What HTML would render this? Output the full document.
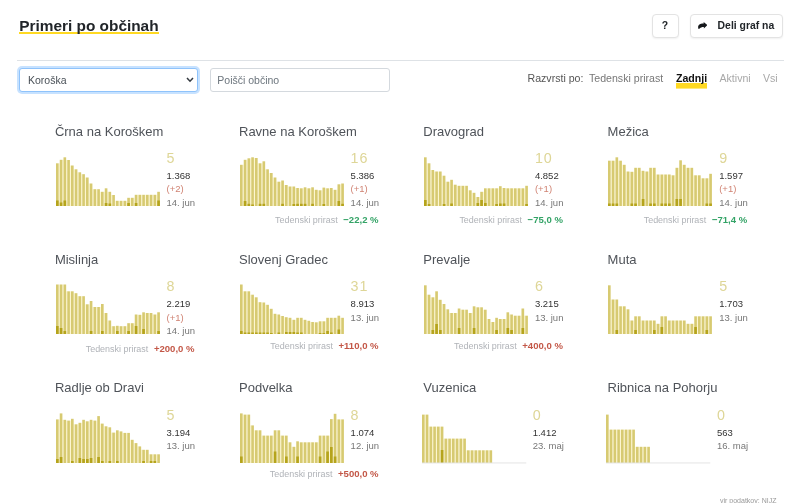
<!DOCTYPE html>
<html lang="sl">
<head>
<meta charset="utf-8">
<title>Primeri po občinah</title>
<style>
html,body{margin:0;padding:0;background:#fff;}
body{width:800px;height:503px;position:relative;overflow:hidden;font-family:"Liberation Sans",sans-serif;color:#212529;}
.abs{position:absolute;white-space:nowrap;}
h2.title{position:absolute;left:19.2px;top:15.8px;margin:0;font-size:15.4px;font-weight:bold;line-height:20px;color:#212529;white-space:nowrap;background:linear-gradient(#ffd922,#ffd922) left 16.6px/100% 2px no-repeat;}
.hr{position:absolute;left:17px;top:60px;width:766.6px;height:1px;background:#dee2e6;}
.btn{position:absolute;top:13.5px;height:22.5px;border:1px solid #e3e3e3;border-radius:4px;background:#fff;box-shadow:0 1px 2px rgba(0,0,0,.06);font-weight:bold;font-size:10.4px;line-height:21.5px;color:#212529;white-space:nowrap;}
.select{position:absolute;left:19px;top:68px;width:177px;height:22px;border:1px solid #8fc3fb;border-radius:3px;box-shadow:0 0 0 2px rgba(0,123,255,.22);background:#fff;font-size:10.5px;line-height:22px;color:#495057;}
.input{position:absolute;left:210px;top:68px;width:178px;height:22px;border:1px solid #d4d9de;border-radius:3px;background:#fff;font-size:10.5px;line-height:22px;color:#6c757d;}
.sort{position:absolute;top:70.1px;font-size:10.6px;line-height:16px;white-space:nowrap;}
.card{position:absolute;width:180px;height:120px;}
.name{position:absolute;left:0;top:0;font-size:13px;line-height:16px;color:#4f5359;white-space:nowrap;}
.chart{position:absolute;left:1.1px;top:29.5px;overflow:visible;}
.chart .l{fill:#d7ca71;}
.chart .u{fill:#fdf6cf;}
.chart .d{fill:#b5a41c;}
.chart .base{fill:#e2e2e2;}
.last{position:absolute;left:111.6px;font-size:14.3px;line-height:16px;color:#ded697;white-space:nowrap;letter-spacing:1px;}
.sm{position:absolute;left:111.6px;font-size:9.5px;line-height:12px;white-space:nowrap;}
.total{color:#333;}
.inc{color:#d08272;}
.date{color:#777;}
.growth{position:absolute;right:40.4px;font-size:8.95px;line-height:12px;white-space:nowrap;color:#b0b3b8;}
.growth b{font-size:9.55px;margin-left:5.6px;}
.growth b.g{color:#33a366;}
.growth b.r{color:#c35747;}
</style>
</head>
<body>
<h2 class="title">Primeri po občinah</h2>
<div class="btn" style="left:651.5px;width:25px;text-align:center;line-height:22.6px">?</div>
<div class="btn" style="left:690px;width:91px"><svg style="position:absolute;left:6.8px;top:7.3px" width="9.3" height="7.5" viewBox="0 0 100 100" preserveAspectRatio="none"><path fill="#15181b" d="M61 0L100 41L63 88L63 65C42 65 20 72 9 100C0 82-3 56 9 40C21 25 42 21 61 21Z"/></svg><span style="position:absolute;left:26.6px;top:0">Deli graf na</span></div>
<div class="hr"></div>
<div class="select"><span style="position:absolute;left:8px;top:0">Koroška</span><svg style="position:absolute;right:3.2px;top:8px" width="8" height="6" viewBox="0 0 8 6"><path d="M1 1l3 3.200L7 1" fill="none" stroke="#343a40" stroke-width="1.500"/></svg></div>
<div class="input"><span style="position:absolute;left:6.3px;top:0">Poišči občino</span></div>
<div class="sort" style="left:527.5px;color:#555">Razvrsti po:</div>
<div class="sort" style="left:589px;color:#777">Tedenski prirast</div>
<div class="sort" style="left:676px;color:#111;font-weight:bold;background:linear-gradient(#ffd922,#ffd922) left 12.9px/100% 5.6px no-repeat;height:18.5px">Zadnji</div>
<div class="sort" style="left:719.5px;color:#a8a8a8">Aktivni</div>
<div class="sort" style="left:763px;color:#a8a8a8">Vsi</div>
<div class="card" style="left:54.9px;top:124px">
<div class="name" style="top:0px">Črna na Koroškem</div>
<svg class="chart" style="left:1.1px;top:29.5px" width="106" height="53" viewBox="0 0 106 53">
<rect class="u" x="2.60" y="9.3" width="1.20" height="42.7"/>
<rect class="l" x="0.00" y="9.3" width="2.65" height="42.7"/>
<rect class="u" x="6.35" y="5.8" width="1.20" height="46.2"/>
<rect class="l" x="3.75" y="5.8" width="2.65" height="46.2"/>
<rect class="u" x="10.10" y="6.0" width="1.20" height="46.0"/>
<rect class="l" x="7.50" y="3.3" width="2.65" height="48.7"/>
<rect class="u" x="13.85" y="11.5" width="1.20" height="40.5"/>
<rect class="l" x="11.25" y="6.0" width="2.65" height="46.0"/>
<rect class="u" x="17.60" y="15.3" width="1.20" height="36.7"/>
<rect class="l" x="15.00" y="11.5" width="2.65" height="40.5"/>
<rect class="u" x="21.35" y="18.3" width="1.20" height="33.7"/>
<rect class="l" x="18.75" y="15.3" width="2.65" height="36.7"/>
<rect class="u" x="25.10" y="20.2" width="1.20" height="31.8"/>
<rect class="l" x="22.50" y="18.3" width="2.65" height="33.7"/>
<rect class="u" x="28.85" y="23.5" width="1.20" height="28.5"/>
<rect class="l" x="26.25" y="20.2" width="2.65" height="31.8"/>
<rect class="u" x="32.60" y="29.5" width="1.20" height="22.5"/>
<rect class="l" x="30.00" y="23.5" width="2.65" height="28.5"/>
<rect class="u" x="36.35" y="35.2" width="1.20" height="16.8"/>
<rect class="l" x="33.75" y="29.5" width="2.65" height="22.5"/>
<rect class="u" x="40.10" y="35.2" width="1.20" height="16.8"/>
<rect class="l" x="37.50" y="35.2" width="2.65" height="16.8"/>
<rect class="u" x="43.85" y="37.8" width="1.20" height="14.2"/>
<rect class="l" x="41.25" y="35.2" width="2.65" height="16.8"/>
<rect class="u" x="47.60" y="37.8" width="1.20" height="14.2"/>
<rect class="l" x="45.00" y="37.8" width="2.65" height="14.2"/>
<rect class="u" x="51.35" y="37.8" width="1.20" height="14.2"/>
<rect class="l" x="48.75" y="34.3" width="2.65" height="17.7"/>
<rect class="u" x="55.10" y="41.0" width="1.20" height="11.0"/>
<rect class="l" x="52.50" y="37.8" width="2.65" height="14.2"/>
<rect class="u" x="58.85" y="46.8" width="1.20" height="5.2"/>
<rect class="l" x="56.25" y="41.0" width="2.65" height="11.0"/>
<rect class="u" x="62.60" y="46.8" width="1.20" height="5.2"/>
<rect class="l" x="60.00" y="46.8" width="2.65" height="5.2"/>
<rect class="u" x="66.35" y="46.8" width="1.20" height="5.2"/>
<rect class="l" x="63.75" y="46.8" width="2.65" height="5.2"/>
<rect class="u" x="70.10" y="46.8" width="1.20" height="5.2"/>
<rect class="l" x="67.50" y="46.8" width="2.65" height="5.2"/>
<rect class="u" x="73.85" y="43.8" width="1.20" height="8.2"/>
<rect class="l" x="71.25" y="43.8" width="2.65" height="8.2"/>
<rect class="u" x="77.60" y="43.8" width="1.20" height="8.2"/>
<rect class="l" x="75.00" y="43.8" width="2.65" height="8.2"/>
<rect class="u" x="81.35" y="40.8" width="1.20" height="11.2"/>
<rect class="l" x="78.75" y="40.8" width="2.65" height="11.2"/>
<rect class="u" x="85.10" y="40.8" width="1.20" height="11.2"/>
<rect class="l" x="82.50" y="40.8" width="2.65" height="11.2"/>
<rect class="u" x="88.85" y="40.8" width="1.20" height="11.2"/>
<rect class="l" x="86.25" y="40.8" width="2.65" height="11.2"/>
<rect class="u" x="92.60" y="40.8" width="1.20" height="11.2"/>
<rect class="l" x="90.00" y="40.8" width="2.65" height="11.2"/>
<rect class="u" x="96.35" y="40.8" width="1.20" height="11.2"/>
<rect class="l" x="93.75" y="40.8" width="2.65" height="11.2"/>
<rect class="u" x="100.10" y="40.8" width="1.20" height="11.2"/>
<rect class="l" x="97.50" y="40.8" width="2.65" height="11.2"/>
<rect class="l" x="101.25" y="37.8" width="2.65" height="14.2"/>
<rect class="d" x="0.00" y="46.5" width="2.65" height="5.5"/>
<rect class="d" x="3.75" y="48.5" width="2.65" height="3.5"/>
<rect class="d" x="7.50" y="46.5" width="2.65" height="5.5"/>
<rect class="d" x="48.75" y="49.0" width="2.65" height="3.0"/>
<rect class="d" x="52.50" y="49.5" width="2.65" height="2.5"/>
<rect class="d" x="71.25" y="49.0" width="2.65" height="3.0"/>
<rect class="d" x="78.75" y="49.0" width="2.65" height="3.0"/>
<rect class="d" x="101.25" y="46.5" width="2.65" height="5.5"/>
</svg>
<div class="last" style="left:111.6px;top:26.2px">5</div>
<div class="sm total" style="left:111.6px;top:46px">1.368</div>
<div class="sm inc" style="left:111.6px;top:59.3px">(+2)</div>
<div class="sm date" style="left:111.6px;top:72.6px">14. jun</div>
</div>
<div class="card" style="left:239.0px;top:124px">
<div class="name" style="top:0px">Ravne na Koroškem</div>
<svg class="chart" style="left:1.1px;top:29.5px" width="106" height="53" viewBox="0 0 106 53">
<rect class="u" x="2.60" y="10.8" width="1.20" height="41.2"/>
<rect class="l" x="0.00" y="10.8" width="2.65" height="41.2"/>
<rect class="u" x="6.35" y="5.8" width="1.20" height="46.2"/>
<rect class="l" x="3.75" y="5.8" width="2.65" height="46.2"/>
<rect class="u" x="10.10" y="4.3" width="1.20" height="47.7"/>
<rect class="l" x="7.50" y="4.3" width="2.65" height="47.7"/>
<rect class="u" x="13.85" y="4.0" width="1.20" height="48.0"/>
<rect class="l" x="11.25" y="3.3" width="2.65" height="48.7"/>
<rect class="u" x="17.60" y="9.3" width="1.20" height="42.7"/>
<rect class="l" x="15.00" y="4.0" width="2.65" height="48.0"/>
<rect class="u" x="21.35" y="9.3" width="1.20" height="42.7"/>
<rect class="l" x="18.75" y="9.3" width="2.65" height="42.7"/>
<rect class="u" x="25.10" y="15.3" width="1.20" height="36.7"/>
<rect class="l" x="22.50" y="7.3" width="2.65" height="44.7"/>
<rect class="u" x="28.85" y="19.0" width="1.20" height="33.0"/>
<rect class="l" x="26.25" y="15.3" width="2.65" height="36.7"/>
<rect class="u" x="32.60" y="23.5" width="1.20" height="28.5"/>
<rect class="l" x="30.00" y="19.0" width="2.65" height="33.0"/>
<rect class="u" x="36.35" y="27.7" width="1.20" height="24.3"/>
<rect class="l" x="33.75" y="23.5" width="2.65" height="28.5"/>
<rect class="u" x="40.10" y="27.7" width="1.20" height="24.3"/>
<rect class="l" x="37.50" y="27.7" width="2.65" height="24.3"/>
<rect class="u" x="43.85" y="31.0" width="1.20" height="21.0"/>
<rect class="l" x="41.25" y="26.5" width="2.65" height="25.5"/>
<rect class="u" x="47.60" y="32.5" width="1.20" height="19.5"/>
<rect class="l" x="45.00" y="31.0" width="2.65" height="21.0"/>
<rect class="u" x="51.35" y="32.5" width="1.20" height="19.5"/>
<rect class="l" x="48.75" y="32.5" width="2.65" height="19.5"/>
<rect class="u" x="55.10" y="34.0" width="1.20" height="18.0"/>
<rect class="l" x="52.50" y="32.5" width="2.65" height="19.5"/>
<rect class="u" x="58.85" y="34.3" width="1.20" height="17.7"/>
<rect class="l" x="56.25" y="34.0" width="2.65" height="18.0"/>
<rect class="u" x="62.60" y="34.3" width="1.20" height="17.7"/>
<rect class="l" x="60.00" y="34.3" width="2.65" height="17.7"/>
<rect class="u" x="66.35" y="34.3" width="1.20" height="17.7"/>
<rect class="l" x="63.75" y="33.3" width="2.65" height="18.7"/>
<rect class="u" x="70.10" y="34.3" width="1.20" height="17.7"/>
<rect class="l" x="67.50" y="34.3" width="2.65" height="17.7"/>
<rect class="u" x="73.85" y="35.8" width="1.20" height="16.2"/>
<rect class="l" x="71.25" y="33.3" width="2.65" height="18.7"/>
<rect class="u" x="77.60" y="36.3" width="1.20" height="15.7"/>
<rect class="l" x="75.00" y="35.8" width="2.65" height="16.2"/>
<rect class="u" x="81.35" y="36.3" width="1.20" height="15.7"/>
<rect class="l" x="78.75" y="36.3" width="2.65" height="15.7"/>
<rect class="u" x="85.10" y="34.3" width="1.20" height="17.7"/>
<rect class="l" x="82.50" y="33.6" width="2.65" height="18.4"/>
<rect class="u" x="88.85" y="34.3" width="1.20" height="17.7"/>
<rect class="l" x="86.25" y="34.3" width="2.65" height="17.7"/>
<rect class="u" x="92.60" y="35.8" width="1.20" height="16.2"/>
<rect class="l" x="90.00" y="34.0" width="2.65" height="18.0"/>
<rect class="u" x="96.35" y="35.8" width="1.20" height="16.2"/>
<rect class="l" x="93.75" y="35.8" width="2.65" height="16.2"/>
<rect class="u" x="100.10" y="30.3" width="1.20" height="21.7"/>
<rect class="l" x="97.50" y="30.3" width="2.65" height="21.7"/>
<rect class="l" x="101.25" y="29.5" width="2.65" height="22.5"/>
<rect class="d" x="3.75" y="47.0" width="2.65" height="5.0"/>
<rect class="d" x="7.50" y="49.8" width="2.65" height="2.2"/>
<rect class="d" x="11.25" y="50.5" width="2.65" height="1.5"/>
<rect class="d" x="18.75" y="49.8" width="2.65" height="2.2"/>
<rect class="d" x="22.50" y="49.8" width="2.65" height="2.2"/>
<rect class="d" x="41.25" y="49.8" width="2.65" height="2.2"/>
<rect class="d" x="52.50" y="50.0" width="2.65" height="2.0"/>
<rect class="d" x="56.25" y="49.8" width="2.65" height="2.2"/>
<rect class="d" x="60.00" y="49.8" width="2.65" height="2.2"/>
<rect class="d" x="63.75" y="49.8" width="2.65" height="2.2"/>
<rect class="d" x="71.25" y="49.8" width="2.65" height="2.2"/>
<rect class="d" x="82.50" y="50.0" width="2.65" height="2.0"/>
<rect class="d" x="97.50" y="47.0" width="2.65" height="5.0"/>
<rect class="d" x="101.25" y="49.8" width="2.65" height="2.2"/>
</svg>
<div class="last" style="left:111.6px;top:26.2px">16</div>
<div class="sm total" style="left:111.6px;top:46px">5.386</div>
<div class="sm inc" style="left:111.6px;top:59.3px">(+1)</div>
<div class="sm date" style="left:111.6px;top:72.6px">14. jun</div>
<div class="growth" style="top:90.3px">Tedenski prirast<b class="g">−22,2 %</b></div>
</div>
<div class="card" style="left:423.3px;top:124px">
<div class="name" style="top:0px">Dravograd</div>
<svg class="chart" style="left:1.1px;top:29.5px" width="106" height="53" viewBox="0 0 106 53">
<rect class="u" x="2.60" y="9.3" width="1.20" height="42.7"/>
<rect class="l" x="0.00" y="3.3" width="2.65" height="48.7"/>
<rect class="u" x="6.35" y="16.0" width="1.20" height="36.0"/>
<rect class="l" x="3.75" y="9.3" width="2.65" height="42.7"/>
<rect class="u" x="10.10" y="17.5" width="1.20" height="34.5"/>
<rect class="l" x="7.50" y="16.0" width="2.65" height="36.0"/>
<rect class="u" x="13.85" y="17.5" width="1.20" height="34.5"/>
<rect class="l" x="11.25" y="17.5" width="2.65" height="34.5"/>
<rect class="u" x="17.60" y="21.7" width="1.20" height="30.3"/>
<rect class="l" x="15.00" y="17.5" width="2.65" height="34.5"/>
<rect class="u" x="21.35" y="27.7" width="1.20" height="24.3"/>
<rect class="l" x="18.75" y="21.7" width="2.65" height="30.3"/>
<rect class="u" x="25.10" y="27.7" width="1.20" height="24.3"/>
<rect class="l" x="22.50" y="27.7" width="2.65" height="24.3"/>
<rect class="u" x="28.85" y="30.7" width="1.20" height="21.3"/>
<rect class="l" x="26.25" y="25.8" width="2.65" height="26.2"/>
<rect class="u" x="32.60" y="31.8" width="1.20" height="20.2"/>
<rect class="l" x="30.00" y="30.7" width="2.65" height="21.3"/>
<rect class="u" x="36.35" y="31.8" width="1.20" height="20.2"/>
<rect class="l" x="33.75" y="31.8" width="2.65" height="20.2"/>
<rect class="u" x="40.10" y="31.8" width="1.20" height="20.2"/>
<rect class="l" x="37.50" y="31.8" width="2.65" height="20.2"/>
<rect class="u" x="43.85" y="36.3" width="1.20" height="15.7"/>
<rect class="l" x="41.25" y="31.8" width="2.65" height="20.2"/>
<rect class="u" x="47.60" y="38.8" width="1.20" height="13.2"/>
<rect class="l" x="45.00" y="36.3" width="2.65" height="15.7"/>
<rect class="u" x="51.35" y="43.0" width="1.20" height="9.0"/>
<rect class="l" x="48.75" y="38.8" width="2.65" height="13.2"/>
<rect class="u" x="55.10" y="43.0" width="1.20" height="9.0"/>
<rect class="l" x="52.50" y="43.0" width="2.65" height="9.0"/>
<rect class="u" x="58.85" y="37.8" width="1.20" height="14.2"/>
<rect class="l" x="56.25" y="37.8" width="2.65" height="14.2"/>
<rect class="u" x="62.60" y="34.3" width="1.20" height="17.7"/>
<rect class="l" x="60.00" y="34.3" width="2.65" height="17.7"/>
<rect class="u" x="66.35" y="34.3" width="1.20" height="17.7"/>
<rect class="l" x="63.75" y="34.3" width="2.65" height="17.7"/>
<rect class="u" x="70.10" y="34.3" width="1.20" height="17.7"/>
<rect class="l" x="67.50" y="34.3" width="2.65" height="17.7"/>
<rect class="u" x="73.85" y="34.3" width="1.20" height="17.7"/>
<rect class="l" x="71.25" y="34.3" width="2.65" height="17.7"/>
<rect class="u" x="77.60" y="34.0" width="1.20" height="18.0"/>
<rect class="l" x="75.00" y="32.2" width="2.65" height="19.8"/>
<rect class="u" x="81.35" y="34.3" width="1.20" height="17.7"/>
<rect class="l" x="78.75" y="34.0" width="2.65" height="18.0"/>
<rect class="u" x="85.10" y="34.3" width="1.20" height="17.7"/>
<rect class="l" x="82.50" y="34.3" width="2.65" height="17.7"/>
<rect class="u" x="88.85" y="34.3" width="1.20" height="17.7"/>
<rect class="l" x="86.25" y="34.3" width="2.65" height="17.7"/>
<rect class="u" x="92.60" y="34.3" width="1.20" height="17.7"/>
<rect class="l" x="90.00" y="34.3" width="2.65" height="17.7"/>
<rect class="u" x="96.35" y="34.3" width="1.20" height="17.7"/>
<rect class="l" x="93.75" y="34.3" width="2.65" height="17.7"/>
<rect class="u" x="100.10" y="34.3" width="1.20" height="17.7"/>
<rect class="l" x="97.50" y="34.3" width="2.65" height="17.7"/>
<rect class="l" x="101.25" y="31.8" width="2.65" height="20.2"/>
<rect class="d" x="0.00" y="46.0" width="2.65" height="6.0"/>
<rect class="d" x="3.75" y="50.0" width="2.65" height="2.0"/>
<rect class="d" x="18.75" y="50.0" width="2.65" height="2.0"/>
<rect class="d" x="26.25" y="49.5" width="2.65" height="2.5"/>
<rect class="d" x="52.50" y="49.0" width="2.65" height="3.0"/>
<rect class="d" x="56.25" y="46.0" width="2.65" height="6.0"/>
<rect class="d" x="60.00" y="49.0" width="2.65" height="3.0"/>
<rect class="d" x="71.25" y="50.0" width="2.65" height="2.0"/>
<rect class="d" x="75.00" y="49.5" width="2.65" height="2.5"/>
<rect class="d" x="78.75" y="49.5" width="2.65" height="2.5"/>
<rect class="d" x="101.25" y="50.0" width="2.65" height="2.0"/>
</svg>
<div class="last" style="left:111.6px;top:26.2px">10</div>
<div class="sm total" style="left:111.6px;top:46px">4.852</div>
<div class="sm inc" style="left:111.6px;top:59.3px">(+1)</div>
<div class="sm date" style="left:111.6px;top:72.6px">14. jun</div>
<div class="growth" style="top:90.3px">Tedenski prirast<b class="g">−75,0 %</b></div>
</div>
<div class="card" style="left:607.6px;top:124px">
<div class="name" style="top:0px">Mežica</div>
<svg class="chart" style="left:0.4px;top:29.5px" width="106" height="53" viewBox="0 0 106 53">
<rect class="u" x="2.60" y="6.7" width="1.20" height="45.3"/>
<rect class="l" x="0.00" y="6.7" width="2.65" height="45.3"/>
<rect class="u" x="6.35" y="6.7" width="1.20" height="45.3"/>
<rect class="l" x="3.75" y="6.7" width="2.65" height="45.3"/>
<rect class="u" x="10.10" y="6.7" width="1.20" height="45.3"/>
<rect class="l" x="7.50" y="3.3" width="2.65" height="48.7"/>
<rect class="u" x="13.85" y="10.8" width="1.20" height="41.2"/>
<rect class="l" x="11.25" y="6.7" width="2.65" height="45.3"/>
<rect class="u" x="17.60" y="17.5" width="1.20" height="34.5"/>
<rect class="l" x="15.00" y="10.8" width="2.65" height="41.2"/>
<rect class="u" x="21.35" y="17.8" width="1.20" height="34.2"/>
<rect class="l" x="18.75" y="17.5" width="2.65" height="34.5"/>
<rect class="u" x="25.10" y="17.8" width="1.20" height="34.2"/>
<rect class="l" x="22.50" y="17.8" width="2.65" height="34.2"/>
<rect class="u" x="28.85" y="13.8" width="1.20" height="38.2"/>
<rect class="l" x="26.25" y="13.8" width="2.65" height="38.2"/>
<rect class="u" x="32.60" y="16.8" width="1.20" height="35.2"/>
<rect class="l" x="30.00" y="13.8" width="2.65" height="38.2"/>
<rect class="u" x="36.35" y="17.5" width="1.20" height="34.5"/>
<rect class="l" x="33.75" y="16.8" width="2.65" height="35.2"/>
<rect class="u" x="40.10" y="17.5" width="1.20" height="34.5"/>
<rect class="l" x="37.50" y="17.5" width="2.65" height="34.5"/>
<rect class="u" x="43.85" y="13.8" width="1.20" height="38.2"/>
<rect class="l" x="41.25" y="13.8" width="2.65" height="38.2"/>
<rect class="u" x="47.60" y="20.5" width="1.20" height="31.5"/>
<rect class="l" x="45.00" y="13.8" width="2.65" height="38.2"/>
<rect class="u" x="51.35" y="20.5" width="1.20" height="31.5"/>
<rect class="l" x="48.75" y="20.5" width="2.65" height="31.5"/>
<rect class="u" x="55.10" y="20.5" width="1.20" height="31.5"/>
<rect class="l" x="52.50" y="20.5" width="2.65" height="31.5"/>
<rect class="u" x="58.85" y="20.5" width="1.20" height="31.5"/>
<rect class="l" x="56.25" y="20.5" width="2.65" height="31.5"/>
<rect class="u" x="62.60" y="21.3" width="1.20" height="30.7"/>
<rect class="l" x="60.00" y="20.5" width="2.65" height="31.5"/>
<rect class="u" x="66.35" y="21.3" width="1.20" height="30.7"/>
<rect class="l" x="63.75" y="21.3" width="2.65" height="30.7"/>
<rect class="u" x="70.10" y="13.8" width="1.20" height="38.2"/>
<rect class="l" x="67.50" y="13.8" width="2.65" height="38.2"/>
<rect class="u" x="73.85" y="10.8" width="1.20" height="41.2"/>
<rect class="l" x="71.25" y="6.3" width="2.65" height="45.7"/>
<rect class="u" x="77.60" y="13.8" width="1.20" height="38.2"/>
<rect class="l" x="75.00" y="10.8" width="2.65" height="41.2"/>
<rect class="u" x="81.35" y="13.8" width="1.20" height="38.2"/>
<rect class="l" x="78.75" y="13.8" width="2.65" height="38.2"/>
<rect class="u" x="85.10" y="21.3" width="1.20" height="30.7"/>
<rect class="l" x="82.50" y="13.8" width="2.65" height="38.2"/>
<rect class="u" x="88.85" y="21.3" width="1.20" height="30.7"/>
<rect class="l" x="86.25" y="21.3" width="2.65" height="30.7"/>
<rect class="u" x="92.60" y="24.3" width="1.20" height="27.7"/>
<rect class="l" x="90.00" y="21.3" width="2.65" height="30.7"/>
<rect class="u" x="96.35" y="24.3" width="1.20" height="27.7"/>
<rect class="l" x="93.75" y="24.3" width="2.65" height="27.7"/>
<rect class="u" x="100.10" y="24.3" width="1.20" height="27.7"/>
<rect class="l" x="97.50" y="24.3" width="2.65" height="27.7"/>
<rect class="l" x="101.25" y="19.8" width="2.65" height="32.2"/>
<rect class="d" x="0.00" y="49.5" width="2.65" height="2.5"/>
<rect class="d" x="3.75" y="49.5" width="2.65" height="2.5"/>
<rect class="d" x="7.50" y="49.5" width="2.65" height="2.5"/>
<rect class="d" x="22.50" y="49.5" width="2.65" height="2.5"/>
<rect class="d" x="26.25" y="49.5" width="2.65" height="2.5"/>
<rect class="d" x="33.75" y="45.0" width="2.65" height="7.0"/>
<rect class="d" x="41.25" y="49.5" width="2.65" height="2.5"/>
<rect class="d" x="45.00" y="49.5" width="2.65" height="2.5"/>
<rect class="d" x="52.50" y="49.5" width="2.65" height="2.5"/>
<rect class="d" x="56.25" y="49.5" width="2.65" height="2.5"/>
<rect class="d" x="60.00" y="49.5" width="2.65" height="2.5"/>
<rect class="d" x="67.50" y="45.0" width="2.65" height="7.0"/>
<rect class="d" x="71.25" y="45.0" width="2.65" height="7.0"/>
<rect class="d" x="97.50" y="49.5" width="2.65" height="2.5"/>
<rect class="d" x="101.25" y="49.5" width="2.65" height="2.5"/>
</svg>
<div class="last" style="left:111.6px;top:26.2px">9</div>
<div class="sm total" style="left:111.6px;top:46px">1.597</div>
<div class="sm inc" style="left:111.6px;top:59.3px">(+1)</div>
<div class="sm date" style="left:111.6px;top:72.6px">14. jun</div>
<div class="growth" style="top:90.3px">Tedenski prirast<b class="g">−71,4 %</b></div>
</div>
<div class="card" style="left:54.9px;top:252.3px">
<div class="name" style="top:-0.4px">Mislinja</div>
<svg class="chart" style="left:1.1px;top:30.0px" width="106" height="53" viewBox="0 0 106 53">
<rect class="u" x="2.60" y="2.5" width="1.20" height="49.5"/>
<rect class="l" x="0.00" y="2.5" width="2.65" height="49.5"/>
<rect class="u" x="6.35" y="2.5" width="1.20" height="49.5"/>
<rect class="l" x="3.75" y="2.5" width="2.65" height="49.5"/>
<rect class="u" x="10.10" y="9.3" width="1.20" height="42.7"/>
<rect class="l" x="7.50" y="2.5" width="2.65" height="49.5"/>
<rect class="u" x="13.85" y="9.3" width="1.20" height="42.7"/>
<rect class="l" x="11.25" y="9.3" width="2.65" height="42.7"/>
<rect class="u" x="17.60" y="11.2" width="1.20" height="40.8"/>
<rect class="l" x="15.00" y="9.3" width="2.65" height="42.7"/>
<rect class="u" x="21.35" y="14.2" width="1.20" height="37.8"/>
<rect class="l" x="18.75" y="11.2" width="2.65" height="40.8"/>
<rect class="u" x="25.10" y="14.2" width="1.20" height="37.8"/>
<rect class="l" x="22.50" y="14.2" width="2.65" height="37.8"/>
<rect class="u" x="28.85" y="22.3" width="1.20" height="29.7"/>
<rect class="l" x="26.25" y="14.2" width="2.65" height="37.8"/>
<rect class="u" x="32.60" y="22.3" width="1.20" height="29.7"/>
<rect class="l" x="30.00" y="22.3" width="2.65" height="29.7"/>
<rect class="u" x="36.35" y="25.0" width="1.20" height="27.0"/>
<rect class="l" x="33.75" y="19.0" width="2.65" height="33.0"/>
<rect class="u" x="40.10" y="25.0" width="1.20" height="27.0"/>
<rect class="l" x="37.50" y="25.0" width="2.65" height="27.0"/>
<rect class="u" x="43.85" y="25.0" width="1.20" height="27.0"/>
<rect class="l" x="41.25" y="25.0" width="2.65" height="27.0"/>
<rect class="u" x="47.60" y="31.0" width="1.20" height="21.0"/>
<rect class="l" x="45.00" y="22.0" width="2.65" height="30.0"/>
<rect class="u" x="51.35" y="38.5" width="1.20" height="13.5"/>
<rect class="l" x="48.75" y="31.0" width="2.65" height="21.0"/>
<rect class="u" x="55.10" y="44.2" width="1.20" height="7.8"/>
<rect class="l" x="52.50" y="38.5" width="2.65" height="13.5"/>
<rect class="u" x="58.85" y="44.2" width="1.20" height="7.8"/>
<rect class="l" x="56.25" y="44.2" width="2.65" height="7.8"/>
<rect class="u" x="62.60" y="44.2" width="1.20" height="7.8"/>
<rect class="l" x="60.00" y="43.8" width="2.65" height="8.2"/>
<rect class="u" x="66.35" y="44.2" width="1.20" height="7.8"/>
<rect class="l" x="63.75" y="44.2" width="2.65" height="7.8"/>
<rect class="u" x="70.10" y="44.2" width="1.20" height="7.8"/>
<rect class="l" x="67.50" y="44.2" width="2.65" height="7.8"/>
<rect class="u" x="73.85" y="41.2" width="1.20" height="10.8"/>
<rect class="l" x="71.25" y="41.2" width="2.65" height="10.8"/>
<rect class="u" x="77.60" y="41.2" width="1.20" height="10.8"/>
<rect class="l" x="75.00" y="41.2" width="2.65" height="10.8"/>
<rect class="u" x="81.35" y="32.8" width="1.20" height="19.2"/>
<rect class="l" x="78.75" y="32.5" width="2.65" height="19.5"/>
<rect class="u" x="85.10" y="32.8" width="1.20" height="19.2"/>
<rect class="l" x="82.50" y="32.8" width="2.65" height="19.2"/>
<rect class="u" x="88.85" y="31.0" width="1.20" height="21.0"/>
<rect class="l" x="86.25" y="30.3" width="2.65" height="21.7"/>
<rect class="u" x="92.60" y="31.0" width="1.20" height="21.0"/>
<rect class="l" x="90.00" y="31.0" width="2.65" height="21.0"/>
<rect class="u" x="96.35" y="32.5" width="1.20" height="19.5"/>
<rect class="l" x="93.75" y="31.0" width="2.65" height="21.0"/>
<rect class="u" x="100.10" y="32.5" width="1.20" height="19.5"/>
<rect class="l" x="97.50" y="32.5" width="2.65" height="19.5"/>
<rect class="l" x="101.25" y="30.3" width="2.65" height="21.7"/>
<rect class="d" x="0.00" y="44.0" width="2.65" height="8.0"/>
<rect class="d" x="3.75" y="46.0" width="2.65" height="6.0"/>
<rect class="d" x="7.50" y="49.0" width="2.65" height="3.0"/>
<rect class="d" x="33.75" y="49.0" width="2.65" height="3.0"/>
<rect class="d" x="45.00" y="49.0" width="2.65" height="3.0"/>
<rect class="d" x="60.00" y="49.0" width="2.65" height="3.0"/>
<rect class="d" x="71.25" y="49.0" width="2.65" height="3.0"/>
<rect class="d" x="78.75" y="44.0" width="2.65" height="8.0"/>
<rect class="d" x="86.25" y="47.0" width="2.65" height="5.0"/>
<rect class="d" x="101.25" y="49.0" width="2.65" height="3.0"/>
</svg>
<div class="last" style="left:111.6px;top:26.2px">8</div>
<div class="sm total" style="left:111.6px;top:46px">2.219</div>
<div class="sm inc" style="left:111.6px;top:59.3px">(+1)</div>
<div class="sm date" style="left:111.6px;top:72.6px">14. jun</div>
<div class="growth" style="top:90.6px">Tedenski prirast<b class="r">+200,0 %</b></div>
</div>
<div class="card" style="left:239.0px;top:252.3px">
<div class="name" style="top:-0.4px">Slovenj Gradec</div>
<svg class="chart" style="left:1.1px;top:30.0px" width="106" height="53" viewBox="0 0 106 53">
<rect class="u" x="2.60" y="9.3" width="1.20" height="42.7"/>
<rect class="l" x="0.00" y="2.5" width="2.65" height="49.5"/>
<rect class="u" x="6.35" y="9.3" width="1.20" height="42.7"/>
<rect class="l" x="3.75" y="9.3" width="2.65" height="42.7"/>
<rect class="u" x="10.10" y="12.7" width="1.20" height="39.3"/>
<rect class="l" x="7.50" y="9.3" width="2.65" height="42.7"/>
<rect class="u" x="13.85" y="15.3" width="1.20" height="36.7"/>
<rect class="l" x="11.25" y="12.7" width="2.65" height="39.3"/>
<rect class="u" x="17.60" y="20.2" width="1.20" height="31.8"/>
<rect class="l" x="15.00" y="15.3" width="2.65" height="36.7"/>
<rect class="u" x="21.35" y="20.5" width="1.20" height="31.5"/>
<rect class="l" x="18.75" y="20.2" width="2.65" height="31.8"/>
<rect class="u" x="25.10" y="22.8" width="1.20" height="29.2"/>
<rect class="l" x="22.50" y="20.5" width="2.65" height="31.5"/>
<rect class="u" x="28.85" y="26.8" width="1.20" height="25.2"/>
<rect class="l" x="26.25" y="22.8" width="2.65" height="29.2"/>
<rect class="u" x="32.60" y="31.8" width="1.20" height="20.2"/>
<rect class="l" x="30.00" y="26.8" width="2.65" height="25.2"/>
<rect class="u" x="36.35" y="32.5" width="1.20" height="19.5"/>
<rect class="l" x="33.75" y="31.8" width="2.65" height="20.2"/>
<rect class="u" x="40.10" y="34.0" width="1.20" height="18.0"/>
<rect class="l" x="37.50" y="32.5" width="2.65" height="19.5"/>
<rect class="u" x="43.85" y="35.2" width="1.20" height="16.8"/>
<rect class="l" x="41.25" y="34.0" width="2.65" height="18.0"/>
<rect class="u" x="47.60" y="35.8" width="1.20" height="16.2"/>
<rect class="l" x="45.00" y="35.2" width="2.65" height="16.8"/>
<rect class="u" x="51.35" y="37.8" width="1.20" height="14.2"/>
<rect class="l" x="48.75" y="35.8" width="2.65" height="16.2"/>
<rect class="u" x="55.10" y="37.8" width="1.20" height="14.2"/>
<rect class="l" x="52.50" y="37.8" width="2.65" height="14.2"/>
<rect class="u" x="58.85" y="35.8" width="1.20" height="16.2"/>
<rect class="l" x="56.25" y="35.8" width="2.65" height="16.2"/>
<rect class="u" x="62.60" y="37.8" width="1.20" height="14.2"/>
<rect class="l" x="60.00" y="35.8" width="2.65" height="16.2"/>
<rect class="u" x="66.35" y="38.8" width="1.20" height="13.2"/>
<rect class="l" x="63.75" y="37.8" width="2.65" height="14.2"/>
<rect class="u" x="70.10" y="40.0" width="1.20" height="12.0"/>
<rect class="l" x="67.50" y="38.8" width="2.65" height="13.2"/>
<rect class="u" x="73.85" y="40.3" width="1.20" height="11.7"/>
<rect class="l" x="71.25" y="40.0" width="2.65" height="12.0"/>
<rect class="u" x="77.60" y="40.3" width="1.20" height="11.7"/>
<rect class="l" x="75.00" y="40.3" width="2.65" height="11.7"/>
<rect class="u" x="81.35" y="39.3" width="1.20" height="12.7"/>
<rect class="l" x="78.75" y="39.3" width="2.65" height="12.7"/>
<rect class="u" x="85.10" y="39.3" width="1.20" height="12.7"/>
<rect class="l" x="82.50" y="39.3" width="2.65" height="12.7"/>
<rect class="u" x="88.85" y="35.8" width="1.20" height="16.2"/>
<rect class="l" x="86.25" y="35.8" width="2.65" height="16.2"/>
<rect class="u" x="92.60" y="35.8" width="1.20" height="16.2"/>
<rect class="l" x="90.00" y="35.8" width="2.65" height="16.2"/>
<rect class="u" x="96.35" y="35.8" width="1.20" height="16.2"/>
<rect class="l" x="93.75" y="35.8" width="2.65" height="16.2"/>
<rect class="u" x="100.10" y="35.8" width="1.20" height="16.2"/>
<rect class="l" x="97.50" y="33.7" width="2.65" height="18.3"/>
<rect class="l" x="101.25" y="35.8" width="2.65" height="16.2"/>
<rect class="d" x="0.00" y="49.0" width="2.65" height="3.0"/>
<rect class="d" x="3.75" y="50.5" width="2.65" height="1.5"/>
<rect class="d" x="7.50" y="50.5" width="2.65" height="1.5"/>
<rect class="d" x="11.25" y="50.5" width="2.65" height="1.5"/>
<rect class="d" x="15.00" y="50.5" width="2.65" height="1.5"/>
<rect class="d" x="18.75" y="50.5" width="2.65" height="1.5"/>
<rect class="d" x="22.50" y="50.5" width="2.65" height="1.5"/>
<rect class="d" x="26.25" y="50.5" width="2.65" height="1.5"/>
<rect class="d" x="30.00" y="51.0" width="2.65" height="1.0"/>
<rect class="d" x="37.50" y="50.5" width="2.65" height="1.5"/>
<rect class="d" x="45.00" y="50.0" width="2.65" height="2.0"/>
<rect class="d" x="48.75" y="50.0" width="2.65" height="2.0"/>
<rect class="d" x="52.50" y="50.0" width="2.65" height="2.0"/>
<rect class="d" x="56.25" y="50.5" width="2.65" height="1.5"/>
<rect class="d" x="60.00" y="50.5" width="2.65" height="1.5"/>
<rect class="d" x="78.75" y="51.0" width="2.65" height="1.0"/>
<rect class="d" x="82.50" y="51.0" width="2.65" height="1.0"/>
<rect class="d" x="86.25" y="49.0" width="2.65" height="3.0"/>
<rect class="d" x="90.00" y="50.5" width="2.65" height="1.5"/>
<rect class="d" x="97.50" y="47.5" width="2.65" height="4.5"/>
</svg>
<div class="last" style="left:111.6px;top:26.2px">31</div>
<div class="sm total" style="left:111.6px;top:46px">8.913</div>
<div class="sm date" style="left:111.6px;top:59.3px">13. jun</div>
<div class="growth" style="top:87.5px">Tedenski prirast<b class="r">+110,0 %</b></div>
</div>
<div class="card" style="left:423.3px;top:252.3px">
<div class="name" style="top:-0.4px">Prevalje</div>
<svg class="chart" style="left:1.1px;top:30.0px" width="106" height="53" viewBox="0 0 106 53">
<rect class="u" x="2.60" y="12.7" width="1.20" height="39.3"/>
<rect class="l" x="0.00" y="3.3" width="2.65" height="48.7"/>
<rect class="u" x="6.35" y="15.3" width="1.20" height="36.7"/>
<rect class="l" x="3.75" y="12.7" width="2.65" height="39.3"/>
<rect class="u" x="10.10" y="15.3" width="1.20" height="36.7"/>
<rect class="l" x="7.50" y="15.3" width="2.65" height="36.7"/>
<rect class="u" x="13.85" y="17.8" width="1.20" height="34.2"/>
<rect class="l" x="11.25" y="9.3" width="2.65" height="42.7"/>
<rect class="u" x="17.60" y="22.0" width="1.20" height="30.0"/>
<rect class="l" x="15.00" y="17.8" width="2.65" height="34.2"/>
<rect class="u" x="21.35" y="27.3" width="1.20" height="24.7"/>
<rect class="l" x="18.75" y="22.0" width="2.65" height="30.0"/>
<rect class="u" x="25.10" y="31.0" width="1.20" height="21.0"/>
<rect class="l" x="22.50" y="27.3" width="2.65" height="24.7"/>
<rect class="u" x="28.85" y="31.0" width="1.20" height="21.0"/>
<rect class="l" x="26.25" y="31.0" width="2.65" height="21.0"/>
<rect class="u" x="32.60" y="31.0" width="1.20" height="21.0"/>
<rect class="l" x="30.00" y="31.0" width="2.65" height="21.0"/>
<rect class="u" x="36.35" y="27.7" width="1.20" height="24.3"/>
<rect class="l" x="33.75" y="26.5" width="2.65" height="25.5"/>
<rect class="u" x="40.10" y="27.7" width="1.20" height="24.3"/>
<rect class="l" x="37.50" y="27.7" width="2.65" height="24.3"/>
<rect class="u" x="43.85" y="31.0" width="1.20" height="21.0"/>
<rect class="l" x="41.25" y="27.7" width="2.65" height="24.3"/>
<rect class="u" x="47.60" y="31.0" width="1.20" height="21.0"/>
<rect class="l" x="45.00" y="31.0" width="2.65" height="21.0"/>
<rect class="u" x="51.35" y="25.3" width="1.20" height="26.7"/>
<rect class="l" x="48.75" y="24.3" width="2.65" height="27.7"/>
<rect class="u" x="55.10" y="25.3" width="1.20" height="26.7"/>
<rect class="l" x="52.50" y="25.3" width="2.65" height="26.7"/>
<rect class="u" x="58.85" y="27.7" width="1.20" height="24.3"/>
<rect class="l" x="56.25" y="25.3" width="2.65" height="26.7"/>
<rect class="u" x="62.60" y="37.0" width="1.20" height="15.0"/>
<rect class="l" x="60.00" y="27.7" width="2.65" height="24.3"/>
<rect class="u" x="66.35" y="40.0" width="1.20" height="12.0"/>
<rect class="l" x="63.75" y="37.0" width="2.65" height="15.0"/>
<rect class="u" x="70.10" y="40.0" width="1.20" height="12.0"/>
<rect class="l" x="67.50" y="40.0" width="2.65" height="12.0"/>
<rect class="u" x="73.85" y="37.0" width="1.20" height="15.0"/>
<rect class="l" x="71.25" y="35.8" width="2.65" height="16.2"/>
<rect class="u" x="77.60" y="37.0" width="1.20" height="15.0"/>
<rect class="l" x="75.00" y="37.0" width="2.65" height="15.0"/>
<rect class="u" x="81.35" y="37.0" width="1.20" height="15.0"/>
<rect class="l" x="78.75" y="37.0" width="2.65" height="15.0"/>
<rect class="u" x="85.10" y="32.5" width="1.20" height="19.5"/>
<rect class="l" x="82.50" y="30.3" width="2.65" height="21.7"/>
<rect class="u" x="88.85" y="33.7" width="1.20" height="18.3"/>
<rect class="l" x="86.25" y="32.5" width="2.65" height="19.5"/>
<rect class="u" x="92.60" y="33.7" width="1.20" height="18.3"/>
<rect class="l" x="90.00" y="33.7" width="2.65" height="18.3"/>
<rect class="u" x="96.35" y="33.7" width="1.20" height="18.3"/>
<rect class="l" x="93.75" y="33.7" width="2.65" height="18.3"/>
<rect class="u" x="100.10" y="33.7" width="1.20" height="18.3"/>
<rect class="l" x="97.50" y="26.5" width="2.65" height="25.5"/>
<rect class="l" x="101.25" y="33.7" width="2.65" height="18.3"/>
<rect class="d" x="7.50" y="48.0" width="2.65" height="4.0"/>
<rect class="d" x="11.25" y="42.0" width="2.65" height="10.0"/>
<rect class="d" x="15.00" y="48.0" width="2.65" height="4.0"/>
<rect class="d" x="33.75" y="46.0" width="2.65" height="6.0"/>
<rect class="d" x="48.75" y="46.0" width="2.65" height="6.0"/>
<rect class="d" x="71.25" y="48.0" width="2.65" height="4.0"/>
<rect class="d" x="82.50" y="46.0" width="2.65" height="6.0"/>
<rect class="d" x="86.25" y="48.0" width="2.65" height="4.0"/>
<rect class="d" x="97.50" y="46.0" width="2.65" height="6.0"/>
</svg>
<div class="last" style="left:111.6px;top:26.2px">6</div>
<div class="sm total" style="left:111.6px;top:46px">3.215</div>
<div class="sm date" style="left:111.6px;top:59.3px">13. jun</div>
<div class="growth" style="top:87.5px">Tedenski prirast<b class="r">+400,0 %</b></div>
</div>
<div class="card" style="left:607.6px;top:252.3px">
<div class="name" style="top:-0.4px">Muta</div>
<svg class="chart" style="left:0.4px;top:30.0px" width="106" height="53" viewBox="0 0 106 53">
<rect class="u" x="2.60" y="17.5" width="1.20" height="34.5"/>
<rect class="l" x="0.00" y="3.3" width="2.65" height="48.7"/>
<rect class="u" x="6.35" y="17.5" width="1.20" height="34.5"/>
<rect class="l" x="3.75" y="17.5" width="2.65" height="34.5"/>
<rect class="u" x="10.10" y="24.3" width="1.20" height="27.7"/>
<rect class="l" x="7.50" y="17.5" width="2.65" height="34.5"/>
<rect class="u" x="13.85" y="24.3" width="1.20" height="27.7"/>
<rect class="l" x="11.25" y="24.3" width="2.65" height="27.7"/>
<rect class="u" x="17.60" y="27.3" width="1.20" height="24.7"/>
<rect class="l" x="15.00" y="24.3" width="2.65" height="27.7"/>
<rect class="u" x="21.35" y="38.5" width="1.20" height="13.5"/>
<rect class="l" x="18.75" y="27.3" width="2.65" height="24.7"/>
<rect class="u" x="25.10" y="38.5" width="1.20" height="13.5"/>
<rect class="l" x="22.50" y="38.5" width="2.65" height="13.5"/>
<rect class="u" x="28.85" y="34.3" width="1.20" height="17.7"/>
<rect class="l" x="26.25" y="34.3" width="2.65" height="17.7"/>
<rect class="u" x="32.60" y="38.5" width="1.20" height="13.5"/>
<rect class="l" x="30.00" y="34.3" width="2.65" height="17.7"/>
<rect class="u" x="36.35" y="38.5" width="1.20" height="13.5"/>
<rect class="l" x="33.75" y="38.5" width="2.65" height="13.5"/>
<rect class="u" x="40.10" y="38.5" width="1.20" height="13.5"/>
<rect class="l" x="37.50" y="38.5" width="2.65" height="13.5"/>
<rect class="u" x="43.85" y="38.5" width="1.20" height="13.5"/>
<rect class="l" x="41.25" y="38.5" width="2.65" height="13.5"/>
<rect class="u" x="47.60" y="41.8" width="1.20" height="10.2"/>
<rect class="l" x="45.00" y="38.5" width="2.65" height="13.5"/>
<rect class="u" x="51.35" y="41.8" width="1.20" height="10.2"/>
<rect class="l" x="48.75" y="41.8" width="2.65" height="10.2"/>
<rect class="u" x="55.10" y="34.3" width="1.20" height="17.7"/>
<rect class="l" x="52.50" y="34.3" width="2.65" height="17.7"/>
<rect class="u" x="58.85" y="38.5" width="1.20" height="13.5"/>
<rect class="l" x="56.25" y="34.3" width="2.65" height="17.7"/>
<rect class="u" x="62.60" y="38.5" width="1.20" height="13.5"/>
<rect class="l" x="60.00" y="38.5" width="2.65" height="13.5"/>
<rect class="u" x="66.35" y="38.5" width="1.20" height="13.5"/>
<rect class="l" x="63.75" y="38.5" width="2.65" height="13.5"/>
<rect class="u" x="70.10" y="38.5" width="1.20" height="13.5"/>
<rect class="l" x="67.50" y="38.5" width="2.65" height="13.5"/>
<rect class="u" x="73.85" y="38.5" width="1.20" height="13.5"/>
<rect class="l" x="71.25" y="38.5" width="2.65" height="13.5"/>
<rect class="u" x="77.60" y="41.8" width="1.20" height="10.2"/>
<rect class="l" x="75.00" y="38.5" width="2.65" height="13.5"/>
<rect class="u" x="81.35" y="41.8" width="1.20" height="10.2"/>
<rect class="l" x="78.75" y="41.8" width="2.65" height="10.2"/>
<rect class="u" x="85.10" y="41.8" width="1.20" height="10.2"/>
<rect class="l" x="82.50" y="41.8" width="2.65" height="10.2"/>
<rect class="u" x="88.85" y="34.3" width="1.20" height="17.7"/>
<rect class="l" x="86.25" y="34.3" width="2.65" height="17.7"/>
<rect class="u" x="92.60" y="34.3" width="1.20" height="17.7"/>
<rect class="l" x="90.00" y="34.3" width="2.65" height="17.7"/>
<rect class="u" x="96.35" y="34.3" width="1.20" height="17.7"/>
<rect class="l" x="93.75" y="34.3" width="2.65" height="17.7"/>
<rect class="u" x="100.10" y="34.3" width="1.20" height="17.7"/>
<rect class="l" x="97.50" y="34.3" width="2.65" height="17.7"/>
<rect class="l" x="101.25" y="34.3" width="2.65" height="17.7"/>
<rect class="d" x="7.50" y="48.0" width="2.65" height="4.0"/>
<rect class="d" x="26.25" y="48.0" width="2.65" height="4.0"/>
<rect class="d" x="45.00" y="48.0" width="2.65" height="4.0"/>
<rect class="d" x="52.50" y="45.0" width="2.65" height="7.0"/>
<rect class="d" x="86.25" y="45.0" width="2.65" height="7.0"/>
<rect class="d" x="97.50" y="48.0" width="2.65" height="4.0"/>
</svg>
<div class="last" style="left:111.6px;top:26.2px">5</div>
<div class="sm total" style="left:111.6px;top:46px">1.703</div>
<div class="sm date" style="left:111.6px;top:59.3px">13. jun</div>
</div>
<div class="card" style="left:54.9px;top:380.6px">
<div class="name" style="top:-0.9px">Radlje ob Dravi</div>
<svg class="chart" style="left:1.1px;top:30.3px" width="106" height="53" viewBox="0 0 106 53">
<rect class="u" x="2.60" y="8.4" width="1.20" height="43.6"/>
<rect class="l" x="0.00" y="8.4" width="2.65" height="43.6"/>
<rect class="u" x="6.35" y="8.8" width="1.20" height="43.2"/>
<rect class="l" x="3.75" y="2.4" width="2.65" height="49.6"/>
<rect class="u" x="10.10" y="9.6" width="1.20" height="42.4"/>
<rect class="l" x="7.50" y="8.8" width="2.65" height="43.2"/>
<rect class="u" x="13.85" y="9.6" width="1.20" height="42.4"/>
<rect class="l" x="11.25" y="9.6" width="2.65" height="42.4"/>
<rect class="u" x="17.60" y="13.3" width="1.20" height="38.7"/>
<rect class="l" x="15.00" y="7.8" width="2.65" height="44.2"/>
<rect class="u" x="21.35" y="13.3" width="1.20" height="38.7"/>
<rect class="l" x="18.75" y="13.3" width="2.65" height="38.7"/>
<rect class="u" x="25.10" y="11.8" width="1.20" height="40.2"/>
<rect class="l" x="22.50" y="11.8" width="2.65" height="40.2"/>
<rect class="u" x="28.85" y="10.3" width="1.20" height="41.7"/>
<rect class="l" x="26.25" y="8.8" width="2.65" height="43.2"/>
<rect class="u" x="32.60" y="10.3" width="1.20" height="41.7"/>
<rect class="l" x="30.00" y="10.3" width="2.65" height="41.7"/>
<rect class="u" x="36.35" y="9.6" width="1.20" height="42.4"/>
<rect class="l" x="33.75" y="8.8" width="2.65" height="43.2"/>
<rect class="u" x="40.10" y="9.6" width="1.20" height="42.4"/>
<rect class="l" x="37.50" y="9.6" width="2.65" height="42.4"/>
<rect class="u" x="43.85" y="12.6" width="1.20" height="39.4"/>
<rect class="l" x="41.25" y="5.1" width="2.65" height="46.9"/>
<rect class="u" x="47.60" y="15.3" width="1.20" height="36.7"/>
<rect class="l" x="45.00" y="12.6" width="2.65" height="39.4"/>
<rect class="u" x="51.35" y="16.3" width="1.20" height="35.7"/>
<rect class="l" x="48.75" y="15.3" width="2.65" height="36.7"/>
<rect class="u" x="55.10" y="21.6" width="1.20" height="30.4"/>
<rect class="l" x="52.50" y="16.3" width="2.65" height="35.7"/>
<rect class="u" x="58.85" y="21.6" width="1.20" height="30.4"/>
<rect class="l" x="56.25" y="21.6" width="2.65" height="30.4"/>
<rect class="u" x="62.60" y="20.4" width="1.20" height="31.6"/>
<rect class="l" x="60.00" y="19.3" width="2.65" height="32.7"/>
<rect class="u" x="66.35" y="21.9" width="1.20" height="30.1"/>
<rect class="l" x="63.75" y="20.4" width="2.65" height="31.6"/>
<rect class="u" x="70.10" y="21.9" width="1.20" height="30.1"/>
<rect class="l" x="67.50" y="21.9" width="2.65" height="30.1"/>
<rect class="u" x="73.85" y="28.8" width="1.20" height="23.2"/>
<rect class="l" x="71.25" y="21.9" width="2.65" height="30.1"/>
<rect class="u" x="77.60" y="32.1" width="1.20" height="19.9"/>
<rect class="l" x="75.00" y="28.8" width="2.65" height="23.2"/>
<rect class="u" x="81.35" y="35.4" width="1.20" height="16.6"/>
<rect class="l" x="78.75" y="32.1" width="2.65" height="19.9"/>
<rect class="u" x="85.10" y="38.8" width="1.20" height="13.2"/>
<rect class="l" x="82.50" y="35.4" width="2.65" height="16.6"/>
<rect class="u" x="88.85" y="38.8" width="1.20" height="13.2"/>
<rect class="l" x="86.25" y="38.8" width="2.65" height="13.2"/>
<rect class="u" x="92.60" y="43.3" width="1.20" height="8.7"/>
<rect class="l" x="90.00" y="38.8" width="2.65" height="13.2"/>
<rect class="u" x="96.35" y="43.3" width="1.20" height="8.7"/>
<rect class="l" x="93.75" y="43.3" width="2.65" height="8.7"/>
<rect class="u" x="100.10" y="43.3" width="1.20" height="8.7"/>
<rect class="l" x="97.50" y="43.3" width="2.65" height="8.7"/>
<rect class="l" x="101.25" y="43.3" width="2.65" height="8.7"/>
<rect class="d" x="0.00" y="48.0" width="2.65" height="4.0"/>
<rect class="d" x="3.75" y="46.0" width="2.65" height="6.0"/>
<rect class="d" x="15.00" y="50.0" width="2.65" height="2.0"/>
<rect class="d" x="22.50" y="47.0" width="2.65" height="5.0"/>
<rect class="d" x="26.25" y="48.0" width="2.65" height="4.0"/>
<rect class="d" x="30.00" y="48.0" width="2.65" height="4.0"/>
<rect class="d" x="33.75" y="47.0" width="2.65" height="5.0"/>
<rect class="d" x="41.25" y="46.0" width="2.65" height="6.0"/>
<rect class="d" x="45.00" y="50.0" width="2.65" height="2.0"/>
<rect class="d" x="52.50" y="50.0" width="2.65" height="2.0"/>
<rect class="d" x="60.00" y="50.0" width="2.65" height="2.0"/>
<rect class="d" x="86.25" y="50.0" width="2.65" height="2.0"/>
<rect class="d" x="93.75" y="50.0" width="2.65" height="2.0"/>
<rect class="d" x="97.50" y="50.0" width="2.65" height="2.0"/>
</svg>
<div class="last" style="left:111.6px;top:26.2px">5</div>
<div class="sm total" style="left:111.6px;top:46px">3.194</div>
<div class="sm date" style="left:111.6px;top:59.3px">13. jun</div>
</div>
<div class="card" style="left:239.0px;top:380.6px">
<div class="name" style="top:-0.9px">Podvelka</div>
<svg class="chart" style="left:1.1px;top:30.3px" width="106" height="53" viewBox="0 0 106 53">
<rect class="u" x="2.60" y="3.6" width="1.20" height="48.4"/>
<rect class="l" x="0.00" y="2.4" width="2.65" height="49.6"/>
<rect class="u" x="6.35" y="3.6" width="1.20" height="48.4"/>
<rect class="l" x="3.75" y="3.6" width="2.65" height="48.4"/>
<rect class="u" x="10.10" y="14.4" width="1.20" height="37.6"/>
<rect class="l" x="7.50" y="3.6" width="2.65" height="48.4"/>
<rect class="u" x="13.85" y="19.3" width="1.20" height="32.7"/>
<rect class="l" x="11.25" y="14.4" width="2.65" height="37.6"/>
<rect class="u" x="17.60" y="19.3" width="1.20" height="32.7"/>
<rect class="l" x="15.00" y="19.3" width="2.65" height="32.7"/>
<rect class="u" x="21.35" y="24.6" width="1.20" height="27.4"/>
<rect class="l" x="18.75" y="19.3" width="2.65" height="32.7"/>
<rect class="u" x="25.10" y="24.6" width="1.20" height="27.4"/>
<rect class="l" x="22.50" y="24.6" width="2.65" height="27.4"/>
<rect class="u" x="28.85" y="24.6" width="1.20" height="27.4"/>
<rect class="l" x="26.25" y="24.6" width="2.65" height="27.4"/>
<rect class="u" x="32.60" y="24.6" width="1.20" height="27.4"/>
<rect class="l" x="30.00" y="24.6" width="2.65" height="27.4"/>
<rect class="u" x="36.35" y="19.3" width="1.20" height="32.7"/>
<rect class="l" x="33.75" y="19.3" width="2.65" height="32.7"/>
<rect class="u" x="40.10" y="24.6" width="1.20" height="27.4"/>
<rect class="l" x="37.50" y="19.3" width="2.65" height="32.7"/>
<rect class="u" x="43.85" y="24.6" width="1.20" height="27.4"/>
<rect class="l" x="41.25" y="24.6" width="2.65" height="27.4"/>
<rect class="u" x="47.60" y="31.3" width="1.20" height="20.7"/>
<rect class="l" x="45.00" y="24.6" width="2.65" height="27.4"/>
<rect class="u" x="51.35" y="35.8" width="1.20" height="16.2"/>
<rect class="l" x="48.75" y="31.3" width="2.65" height="20.7"/>
<rect class="u" x="55.10" y="35.8" width="1.20" height="16.2"/>
<rect class="l" x="52.50" y="35.8" width="2.65" height="16.2"/>
<rect class="u" x="58.85" y="31.3" width="1.20" height="20.7"/>
<rect class="l" x="56.25" y="30.3" width="2.65" height="21.7"/>
<rect class="u" x="62.60" y="31.3" width="1.20" height="20.7"/>
<rect class="l" x="60.00" y="31.3" width="2.65" height="20.7"/>
<rect class="u" x="66.35" y="31.3" width="1.20" height="20.7"/>
<rect class="l" x="63.75" y="31.3" width="2.65" height="20.7"/>
<rect class="u" x="70.10" y="31.3" width="1.20" height="20.7"/>
<rect class="l" x="67.50" y="31.3" width="2.65" height="20.7"/>
<rect class="u" x="73.85" y="31.3" width="1.20" height="20.7"/>
<rect class="l" x="71.25" y="31.3" width="2.65" height="20.7"/>
<rect class="u" x="77.60" y="31.3" width="1.20" height="20.7"/>
<rect class="l" x="75.00" y="31.3" width="2.65" height="20.7"/>
<rect class="u" x="81.35" y="24.6" width="1.20" height="27.4"/>
<rect class="l" x="78.75" y="24.6" width="2.65" height="27.4"/>
<rect class="u" x="85.10" y="24.6" width="1.20" height="27.4"/>
<rect class="l" x="82.50" y="24.6" width="2.65" height="27.4"/>
<rect class="u" x="88.85" y="24.6" width="1.20" height="27.4"/>
<rect class="l" x="86.25" y="24.6" width="2.65" height="27.4"/>
<rect class="u" x="92.60" y="8.1" width="1.20" height="43.9"/>
<rect class="l" x="90.00" y="8.1" width="2.65" height="43.9"/>
<rect class="u" x="96.35" y="8.4" width="1.20" height="43.6"/>
<rect class="l" x="93.75" y="2.8" width="2.65" height="49.2"/>
<rect class="u" x="100.10" y="8.4" width="1.20" height="43.6"/>
<rect class="l" x="97.50" y="8.4" width="2.65" height="43.6"/>
<rect class="l" x="101.25" y="8.4" width="2.65" height="43.6"/>
<rect class="d" x="0.00" y="45.5" width="2.65" height="6.5"/>
<rect class="d" x="33.75" y="40.5" width="2.65" height="11.5"/>
<rect class="d" x="45.00" y="45.5" width="2.65" height="6.5"/>
<rect class="d" x="56.25" y="45.5" width="2.65" height="6.5"/>
<rect class="d" x="78.75" y="45.5" width="2.65" height="6.5"/>
<rect class="d" x="86.25" y="40.5" width="2.65" height="11.5"/>
<rect class="d" x="90.00" y="36.0" width="2.65" height="16.0"/>
<rect class="d" x="93.75" y="45.5" width="2.65" height="6.5"/>
</svg>
<div class="last" style="left:111.6px;top:26.2px">8</div>
<div class="sm total" style="left:111.6px;top:46px">1.074</div>
<div class="sm date" style="left:111.6px;top:59.3px">12. jun</div>
<div class="growth" style="top:87.5px">Tedenski prirast<b class="r">+500,0 %</b></div>
</div>
<div class="card" style="left:423.3px;top:380.6px">
<div class="name" style="top:-0.9px">Vuzenica</div>
<svg class="chart" style="left:-1.1px;top:30.3px" width="106" height="53" viewBox="0 0 106 53">
<rect class="u" x="2.60" y="3.6" width="1.20" height="48.4"/>
<rect class="l" x="0.00" y="3.6" width="2.65" height="48.4"/>
<rect class="u" x="6.35" y="15.6" width="1.20" height="36.4"/>
<rect class="l" x="3.75" y="3.6" width="2.65" height="48.4"/>
<rect class="u" x="10.10" y="15.6" width="1.20" height="36.4"/>
<rect class="l" x="7.50" y="15.6" width="2.65" height="36.4"/>
<rect class="u" x="13.85" y="15.6" width="1.20" height="36.4"/>
<rect class="l" x="11.25" y="15.6" width="2.65" height="36.4"/>
<rect class="u" x="17.60" y="15.6" width="1.20" height="36.4"/>
<rect class="l" x="15.00" y="15.6" width="2.65" height="36.4"/>
<rect class="u" x="21.35" y="27.6" width="1.20" height="24.4"/>
<rect class="l" x="18.75" y="15.6" width="2.65" height="36.4"/>
<rect class="u" x="25.10" y="27.6" width="1.20" height="24.4"/>
<rect class="l" x="22.50" y="27.6" width="2.65" height="24.4"/>
<rect class="u" x="28.85" y="27.6" width="1.20" height="24.4"/>
<rect class="l" x="26.25" y="27.6" width="2.65" height="24.4"/>
<rect class="u" x="32.60" y="27.6" width="1.20" height="24.4"/>
<rect class="l" x="30.00" y="27.6" width="2.65" height="24.4"/>
<rect class="u" x="36.35" y="27.6" width="1.20" height="24.4"/>
<rect class="l" x="33.75" y="27.6" width="2.65" height="24.4"/>
<rect class="u" x="40.10" y="27.6" width="1.20" height="24.4"/>
<rect class="l" x="37.50" y="27.6" width="2.65" height="24.4"/>
<rect class="u" x="43.85" y="39.3" width="1.20" height="12.7"/>
<rect class="l" x="41.25" y="27.6" width="2.65" height="24.4"/>
<rect class="u" x="47.60" y="39.3" width="1.20" height="12.7"/>
<rect class="l" x="45.00" y="39.3" width="2.65" height="12.7"/>
<rect class="u" x="51.35" y="39.3" width="1.20" height="12.7"/>
<rect class="l" x="48.75" y="39.3" width="2.65" height="12.7"/>
<rect class="u" x="55.10" y="39.3" width="1.20" height="12.7"/>
<rect class="l" x="52.50" y="39.3" width="2.65" height="12.7"/>
<rect class="u" x="58.85" y="39.3" width="1.20" height="12.7"/>
<rect class="l" x="56.25" y="39.3" width="2.65" height="12.7"/>
<rect class="u" x="62.60" y="39.3" width="1.20" height="12.7"/>
<rect class="l" x="60.00" y="39.3" width="2.65" height="12.7"/>
<rect class="u" x="66.35" y="39.3" width="1.20" height="12.7"/>
<rect class="l" x="63.75" y="39.3" width="2.65" height="12.7"/>
<rect class="l" x="67.50" y="39.3" width="2.65" height="12.7"/>
<rect class="d" x="18.75" y="39.0" width="2.65" height="13.0"/>
<rect class="base" x="0" y="51.5" width="104.3" height="0.9"/>
</svg>
<div class="last" style="left:109.4px;top:26.2px">0</div>
<div class="sm total" style="left:109.4px;top:46px">1.412</div>
<div class="sm date" style="left:109.4px;top:59.3px">23. maj</div>
</div>
<div class="card" style="left:607.6px;top:380.6px">
<div class="name" style="top:-0.9px">Ribnica na Pohorju</div>
<svg class="chart" style="left:-1.9px;top:30.3px" width="106" height="53" viewBox="0 0 106 53">
<rect class="u" x="2.60" y="18.6" width="1.20" height="33.4"/>
<rect class="l" x="0.00" y="3.6" width="2.65" height="48.4"/>
<rect class="u" x="6.35" y="18.6" width="1.20" height="33.4"/>
<rect class="l" x="3.75" y="18.6" width="2.65" height="33.4"/>
<rect class="u" x="10.10" y="18.6" width="1.20" height="33.4"/>
<rect class="l" x="7.50" y="18.6" width="2.65" height="33.4"/>
<rect class="u" x="13.85" y="18.6" width="1.20" height="33.4"/>
<rect class="l" x="11.25" y="18.6" width="2.65" height="33.4"/>
<rect class="u" x="17.60" y="18.6" width="1.20" height="33.4"/>
<rect class="l" x="15.00" y="18.6" width="2.65" height="33.4"/>
<rect class="u" x="21.35" y="18.6" width="1.20" height="33.4"/>
<rect class="l" x="18.75" y="18.6" width="2.65" height="33.4"/>
<rect class="u" x="25.10" y="18.6" width="1.20" height="33.4"/>
<rect class="l" x="22.50" y="18.6" width="2.65" height="33.4"/>
<rect class="u" x="28.85" y="35.8" width="1.20" height="16.2"/>
<rect class="l" x="26.25" y="18.6" width="2.65" height="33.4"/>
<rect class="u" x="32.60" y="35.8" width="1.20" height="16.2"/>
<rect class="l" x="30.00" y="35.8" width="2.65" height="16.2"/>
<rect class="u" x="36.35" y="35.8" width="1.20" height="16.2"/>
<rect class="l" x="33.75" y="35.8" width="2.65" height="16.2"/>
<rect class="u" x="40.10" y="35.8" width="1.20" height="16.2"/>
<rect class="l" x="37.50" y="35.8" width="2.65" height="16.2"/>
<rect class="l" x="41.25" y="35.8" width="2.65" height="16.2"/>
<rect class="base" x="0" y="51.5" width="104.3" height="0.9"/>
</svg>
<div class="last" style="left:109.3px;top:26.2px">0</div>
<div class="sm total" style="left:109.3px;top:46px">563</div>
<div class="sm date" style="left:109.3px;top:59.3px">16. maj</div>
</div>
<div class="abs" style="left:720px;top:495.5px;font-size:7px;line-height:9px;color:#999">vir podatkov: NIJZ</div>
</body></html>
